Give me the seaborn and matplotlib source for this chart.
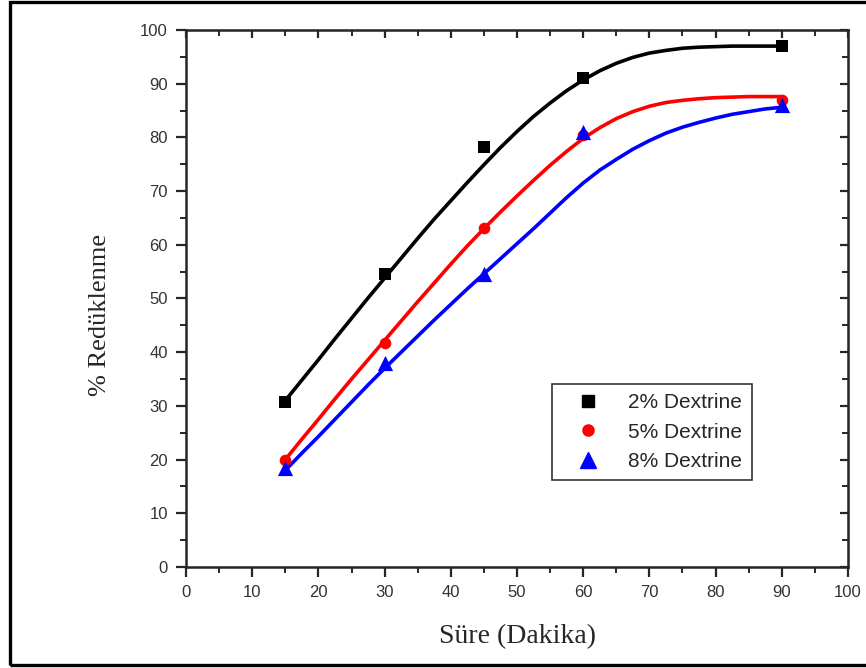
import numpy as np
import pandas as pd
import matplotlib
matplotlib.use("Agg")
import matplotlib.pyplot as plt
from matplotlib.lines import Line2D
from matplotlib.patches import Rectangle
from matplotlib.ticker import MultipleLocator
import seaborn as sns

# ---- data ----
time_pts = [15, 30, 45, 60, 90]
dex2_pts = [30.8, 54.6, 78.2, 91.0, 97.0]
dex5_pts = [20.0, 41.8, 63.1, 80.5, 87.0]
dex8_pts = [18.5, 38.0, 54.5, 81.0, 86.0]

curve_x = [15, 17.5, 20, 22.5, 25, 27.5, 30, 32.5, 35, 37.5, 40, 42.5, 45, 47.5, 50,
           52.5, 55, 57.5, 60, 62.5, 65, 67.5, 70, 72.5, 75, 77.5, 80, 82.5, 85, 87.5, 90]
dex2_fit = [31.0, 34.8, 38.6, 42.5, 46.3, 50.1, 53.8, 57.5, 61.2, 64.8, 68.2, 71.6, 74.9,
            78.1, 81.1, 83.9, 86.4, 88.7, 90.7, 92.4, 93.8, 94.9, 95.7, 96.2, 96.6, 96.8,
            96.9, 97.0, 97.0, 97.0, 97.0]
dex5_fit = [20.0, 23.8, 27.5, 31.3, 35.0, 38.6, 42.2, 45.8, 49.4, 52.9, 56.4, 59.8, 63.0,
            66.1, 69.1, 72.0, 74.8, 77.4, 79.8, 81.8, 83.5, 84.8, 85.8, 86.5, 86.9, 87.2,
            87.4, 87.5, 87.6, 87.6, 87.6]
dex8_fit = [18.0, 21.2, 24.3, 27.5, 30.7, 33.9, 37.0, 40.0, 43.0, 46.0, 48.9, 51.8, 54.6,
            57.4, 60.2, 63.0, 65.9, 68.8, 71.5, 73.9, 75.9, 77.8, 79.4, 80.8, 81.9, 82.8,
            83.6, 84.3, 84.8, 85.3, 85.6]

labels = ["2% Dextrine", "5% Dextrine", "8% Dextrine"]
colors = ["#000000", "#ff0000", "#0000ff"]
markers = ["s", "o", "^"]

sns.set_style("ticks")
plt.rcParams["font.family"] = ["Liberation Sans", "DejaVu Sans"]

fig = plt.figure(figsize=(8.66, 6.68), dpi=100)
fig.patch.set_facecolor("white")
border = Rectangle((0.0118, 0.0045), 1.05, 0.9925, transform=fig.transFigure,
                   fill=False, edgecolor="black", linewidth=2.4, zorder=10, clip_on=False)
fig.patches.append(border)
ax = fig.add_axes([0.2148, 0.1512, 0.7644, 0.8039])

fits = [dex2_fit, dex5_fit, dex8_fit]
pts = [dex2_pts, dex5_pts, dex8_pts]
sizes = [75, 70, 120]
for lab, c, m, f, p, s in zip(labels, colors, markers, fits, pts, sizes):
    cdf = pd.DataFrame({"x": curve_x, "y": f})
    sns.lineplot(data=cdf, x="x", y="y", ax=ax, color=c, linewidth=2.6, zorder=3)
    pdf = pd.DataFrame({"x": time_pts, "y": p})
    sns.scatterplot(data=pdf, x="x", y="y", ax=ax, color=c, marker=m, s=s,
                    edgecolor=c, linewidth=0, zorder=4)

ax.set_xlim(0, 100)
ax.set_ylim(0, 100)
ax.xaxis.set_major_locator(MultipleLocator(10))
ax.xaxis.set_minor_locator(MultipleLocator(5))
ax.yaxis.set_major_locator(MultipleLocator(10))
ax.yaxis.set_minor_locator(MultipleLocator(5))
ax.tick_params(which="major", direction="out", length=7, width=1.6,
               labelsize=12, labelcolor="#333333", pad=6)
ax.tick_params(which="minor", direction="out", length=4, width=1.4)
for sp in ax.spines.values():
    sp.set_linewidth(1.8)
    sp.set_visible(True)

top = ax.secondary_xaxis("top")
top.xaxis.set_major_locator(MultipleLocator(10))
top.xaxis.set_minor_locator(MultipleLocator(5))
top.tick_params(which="major", direction="in", length=6, width=1.6, labeltop=False)
top.tick_params(which="minor", direction="in", length=4, width=1.4)
right = ax.secondary_yaxis("right")
right.yaxis.set_major_locator(MultipleLocator(10))
right.yaxis.set_minor_locator(MultipleLocator(5))
right.tick_params(which="major", direction="in", length=6, width=1.6, labelright=False)
right.tick_params(which="minor", direction="in", length=4, width=1.4)

ax.set_xlabel("Süre (Dakika)", family=["Liberation Serif", "DejaVu Serif"], fontsize=20)
ax.set_ylabel("% Redüklenme", family=["Liberation Serif", "DejaVu Serif"], fontsize=19)
ax.xaxis.set_label_coords(0.5, -0.13, transform=ax.transAxes)
ax.yaxis.set_label_coords(-0.13, 0.47, transform=ax.transAxes)
ax.xaxis.label.set_verticalalignment("center")
ax.yaxis.label.set_verticalalignment("center")

handles = [Line2D([], [], linestyle="none", marker=m, color=c, markersize=ms)
           for c, m, ms in zip(colors, markers, [8, 8, 11])]
leg = ax.legend(handles, labels, loc="upper left", bbox_to_anchor=(0.553, 0.341),
                frameon=True, fancybox=False, edgecolor="black", fontsize=15,
                handletextpad=0.7, borderpad=0.45, labelspacing=0.5,
                handlelength=2.5, borderaxespad=0)
leg.get_frame().set_linewidth(1.2)

fig.savefig("out.png", dpi=100, facecolor="white")
